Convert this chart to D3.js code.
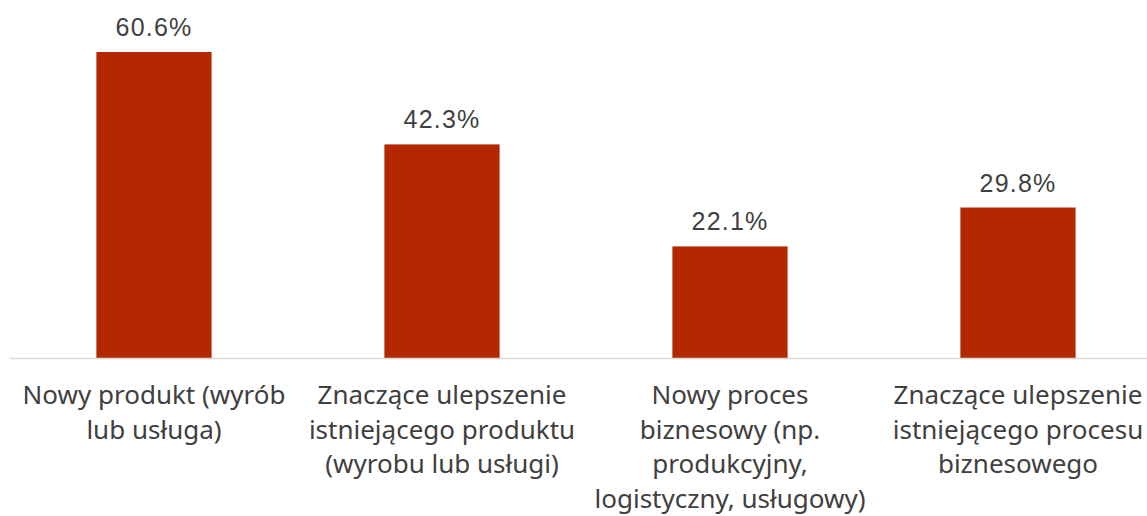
<!DOCTYPE html>
<html>
<head>
<meta charset="utf-8">
<script src="https://cdn.jsdelivr.net/npm/d3@7"></script>
<style>
  body { margin: 0; background: #fff; }
  svg text { fill: #404040; }
</style>
</head>
<body>
<svg id="chart" width="1147" height="516"></svg>
<script>
// categories, one line per array entry (wrapped as in the original)
const categories = [
  ["Nowy produkt (wyrób", "lub usługa)"],
  ["Znaczące ulepszenie", "istniejącego produktu", "(wyrobu lub usługi)"],
  ["Nowy proces", "biznesowy (np.", "produkcyjny,", "logistyczny, usługowy)"],
  ["Znaczące ulepszenie", "istniejącego procesu", "biznesowego"]
];
const values = [60.6, 42.3, 22.1, 29.8];

let svg = d3.select("#chart");

let baseY = 358;

let x = d3.scaleBand()
  .domain(d3.range(values.length))
  .range([10, 1162])
  .paddingInner(0.6)
  .paddingOuter(0.3);

let y = d3.scaleLinear()
  .domain([0, 60.6])
  .range([baseY, 52]);

// bars
svg.append("g").selectAll("rect")
  .data(values)
  .enter().append("rect")
  .attr("x", (d, i) => x(i))
  .attr("width", x.bandwidth())
  .attr("y", d => y(d))
  .attr("height", d => baseY - y(d))
  .attr("fill", "#b32800");

// axis line
svg.append("line")
  .attr("x1", 10).attr("x2", 1147)
  .attr("y1", baseY + 0.5).attr("y2", baseY + 0.5)
  .attr("stroke", "#d9d9d9")
  .attr("stroke-width", 1.5);

// value labels
svg.append("g").selectAll("text")
  .data(values)
  .enter().append("text")
  .attr("x", (d, i) => x(i) + x.bandwidth() / 2)
  .attr("y", d => y(d) - 16)
  .attr("text-anchor", "middle")
  .style("font-family", "'Liberation Sans', Arial, sans-serif")
  .style("font-size", "25px")
  .style("letter-spacing", "1.2px")
  .text(d => d.toFixed(1) + "%");

// category labels
let cat = svg.append("g").selectAll("text")
  .data(categories)
  .enter().append("text")
  .attr("text-anchor", "middle")
  .style("font-family", "'Noto Sans', sans-serif")
  .style("font-size", "26px");

cat.each(function(lines, i) {
  let t = d3.select(this);
  lines.forEach((l, j) => {
    t.append("tspan")
      .attr("x", x(i) + x.bandwidth() / 2)
      .attr("y", 404 + j * 34.5)
      .text(l);
  });
});
</script>
</body>
</html>
